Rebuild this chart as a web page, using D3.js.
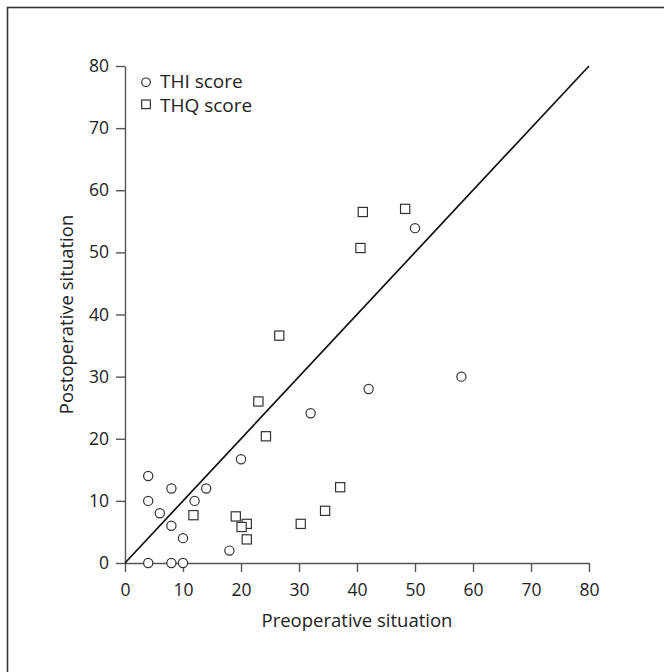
<!DOCTYPE html>
<html>
<head>
<meta charset="utf-8">
<script src="https://cdn.jsdelivr.net/npm/d3@7"></script>
<style>
  body { margin: 0; background: #fff; }
  text { font-family: 'Open Sans', sans-serif; fill: #222; }
</style>
</head>
<body>
<div id="main"></div>
<script>
const w = 664, h = 672
const margin = {left: 125, top: 66, right: 75, bottom: 109}

// THI score points [pre, post]
const thiPre  = [4, 4, 6, 8, 8, 10, 12, 14, 4, 8, 10, 18, 20, 32, 42, 50, 58]
const thiPost = [14, 10, 8, 12, 6, 4, 10, 12, 0, 0, 0, 2, 16.7, 24.1, 28, 53.9, 30]
// THQ score points [pre, post]
const thqPre  = [23, 24.3, 11.8, 19.1, 21, 20.1, 21, 37.1, 34.5, 30.3, 41, 48.3, 40.6, 26.6]
const thqPost = [26, 20.4, 7.7, 7.5, 6.3, 5.8, 3.8, 12.2, 8.4, 6.3, 56.5, 57, 50.7, 36.6]
const ticks = [0, 10, 20, 30, 40, 50, 60, 70, 80]
const legendLabels = ['THI score', 'THQ score']

const svg = d3.select('#main')
            .append('svg')
            .attr('width', w)
            .attr('height', h)

// frame runs off the right and bottom edges
svg.append('rect')
    .attr('x', 7.5).attr('y', 7.5)
    .attr('width', w + 20).attr('height', h + 20)
    .attr('fill', 'none')
    .attr('stroke', '#333')
    .attr('stroke-width', 1.6)

const xScale = d3.scaleLinear().domain([0, 80]).range([margin.left, w - margin.right])
const yScale = d3.scaleLinear().domain([0, 80]).range([h - margin.bottom, margin.top])

const xAxis = d3.axisBottom(xScale).tickValues(ticks).tickSize(9).tickSizeOuter(0).tickPadding(12)
const yAxis = d3.axisLeft(yScale).tickValues(ticks).tickSize(9).tickSizeOuter(0).tickPadding(7)

const gx = svg.append('g')
    .attr('transform', 'translate(0,' + yScale(0) + ')')
    .call(xAxis)
const gy = svg.append('g')
    .attr('transform', 'translate(' + xScale(0) + ',0)')
    .call(yAxis)

;[gx, gy].forEach(g => {
    g.selectAll('path, line').attr('stroke', '#555').attr('stroke-width', 1.4)
    g.selectAll('text').style('font-size', '17.5px').attr('fill', '#222')
})

// identity line
svg.append('line')
    .attr('x1', xScale(0)).attr('y1', yScale(0))
    .attr('x2', xScale(80)).attr('y2', yScale(80))
    .attr('stroke', '#111')
    .attr('stroke-width', 1.7)

const thi = thiPre.map((d, i) => [d, thiPost[i]])
const thq = thqPre.map((d, i) => [d, thqPost[i]])

svg.append('g').selectAll('circle')
    .data(thi)
    .enter()
    .append('circle')
    .attr('cx', d => xScale(d[0]))
    .attr('cy', d => yScale(d[1]))
    .attr('r', 4.6)
    .attr('fill', '#fff')
    .attr('stroke', '#333')
    .attr('stroke-width', 1.2)

svg.append('g').selectAll('rect')
    .data(thq)
    .enter()
    .append('rect')
    .attr('x', d => xScale(d[0]) - 4.6)
    .attr('y', d => yScale(d[1]) - 4.6)
    .attr('width', 9.2)
    .attr('height', 9.2)
    .attr('fill', '#fff')
    .attr('stroke', '#333')
    .attr('stroke-width', 1.2)

//legend
const legend = svg.append('g')
legend.append('circle')
    .attr('cx', 146).attr('cy', 82.3).attr('r', 4.3)
    .attr('fill', '#fff').attr('stroke', '#333').attr('stroke-width', 1.2)
legend.append('rect')
    .attr('x', 141.7).attr('y', 100).attr('width', 8.6).attr('height', 8.6)
    .attr('fill', '#fff').attr('stroke', '#333').attr('stroke-width', 1.2)
legend.selectAll('text')
    .data(legendLabels)
    .enter()
    .append('text')
    .attr('x', 160)
    .attr('y', (d, i) => 88 + i * 23.5)
    .text(d => d)
    .style('font-size', '19px')

//axis titles
svg.append('text')
    .text('Preoperative situation')
    .attr('x', xScale(40))
    .attr('y', 627)
    .attr('text-anchor', 'middle')
    .style('font-size', '18.5px')

svg.append('text')
    .text('Postoperative situation')
    .attr('transform', 'translate(73,' + yScale(40) + ') rotate(-90)')
    .attr('text-anchor', 'middle')
    .style('font-size', '18.5px')
</script>
</body>
</html>
